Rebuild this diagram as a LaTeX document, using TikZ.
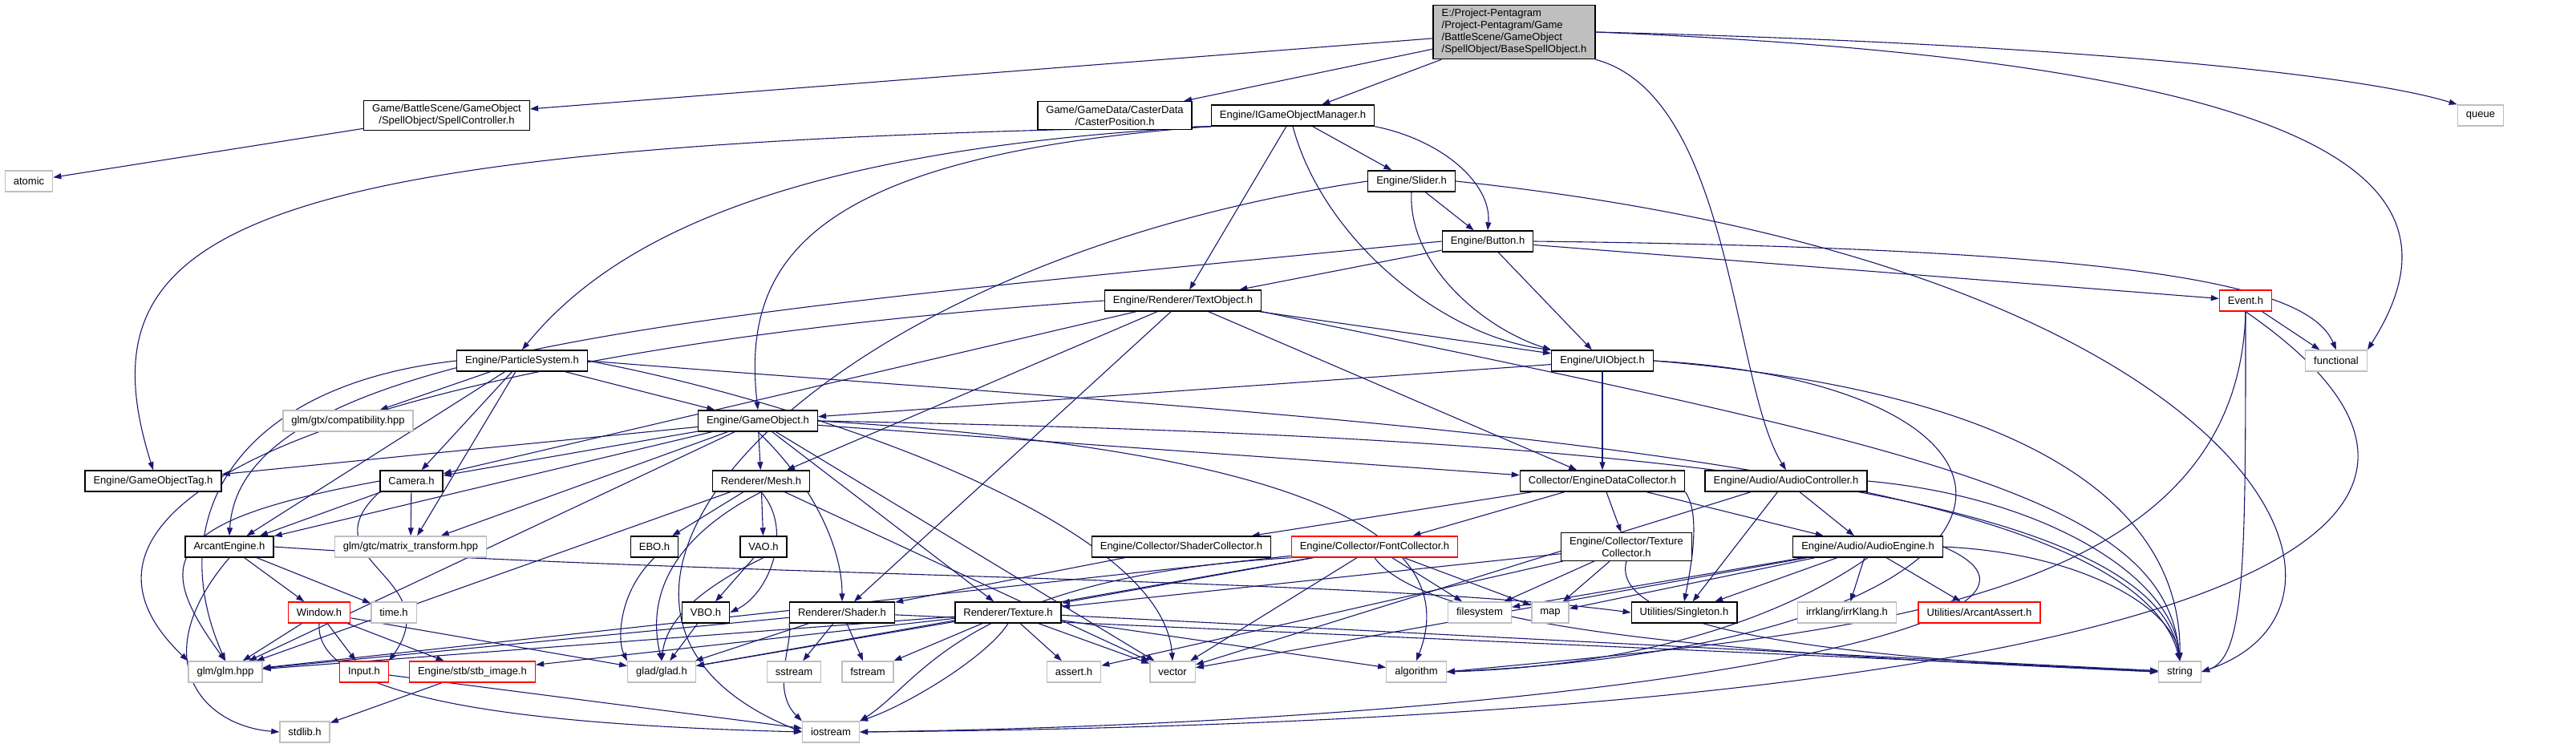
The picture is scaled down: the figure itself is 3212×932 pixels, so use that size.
\documentclass[tikz,border=0pt]{standalone}
\usepackage{fontspec}
\setmainfont{Liberation Sans}
\usetikzlibrary{arrows.meta}
\definecolor{edgeblue}{HTML}{191970}
\definecolor{sysgray}{HTML}{BFBFBF}
\pgfdeclarelayer{bg}
\pgfsetlayers{bg,main}
\tikzset{
  hdr/.style={draw=black, line width=1.4pt, fill=white, font=\fontsize{13}{15}\selectfont,
    inner xsep=10.5pt, inner ysep=5pt, minimum height=26pt, align=center},
  syshdr/.style={hdr, draw=sysgray},
  redhdr/.style={hdr, draw=red},
  roothdr/.style={hdr, fill=sysgray, align=left},
  dep/.style={draw=edgeblue, line width=1.1pt, -{Triangle[length=10pt,width=7pt]}},
}
\begin{document}
\begin{tikzpicture}[x=1pt,y=1pt]
    \useasboundingbox (0,0) rectangle (3212,-932);

    % Nodo radice
    \node[roothdr] (root) at (1888,-40) {E:/Project-Pentagram\\/Project-Pentagram/Game\\/BattleScene/GameObject\\/SpellObject/BaseSpellObject.h};

    % Primo livello
    \node[hdr] (spellctrl) at (557,-144) {Game/BattleScene/GameObject\\/SpellObject/SpellController.h};
    \node[syshdr] (atomic) at (36,-226) {atomic};
    \node[hdr] (casterpos) at (1390,-144) {Game/GameData/CasterData\\/CasterPosition.h};
    \node[hdr] (igom) at (1612,-144) {Engine/IGameObjectManager.h};
    \node[syshdr] (queue) at (3093,-144) {queue};
    \node[syshdr] (functional) at (2913,-450) {functional};
    \node[hdr] (audioctrl) at (2227,-600) {Engine/Audio/AudioController.h};

    % UI
    \node[hdr] (slider) at (1760,-226) {Engine/Slider.h};
    \node[hdr] (button) at (1855,-301) {Engine/Button.h};
    \node[hdr] (uiobject) at (1998,-450) {Engine/UIObject.h};
    \node[hdr] (textobject) at (1475,-375) {Engine/Renderer/TextObject.h};
    \node[redhdr] (event) at (2800,-375) {Event.h};

    % GameObject e motore
    \node[hdr] (particles) at (651,-450) {Engine/ParticleSystem.h};
    \node[hdr] (gotag) at (191,-600) {Engine/GameObjectTag.h};
    \node[hdr] (gameobject) at (945,-525) {Engine/GameObject.h};
    \node[syshdr] (compat) at (434,-525) {glm/gtx/compatibility.hpp};
    \node[hdr] (camera) at (513,-600) {Camera.h};
    \node[hdr] (arcant) at (286,-682) {ArcantEngine.h};
    \node[syshdr] (matrix) at (512,-682) {glm/gtc/matrix\_transform.hpp};
    \node[redhdr] (window) at (398,-764) {Window.h};
    \node[syshdr] (time) at (491,-764) {time.h};
    \node[syshdr] (glm) at (281,-838) {glm/glm.hpp};
    \node[redhdr] (input) at (454,-838) {Input.h};
    \node[redhdr] (stbimage) at (589,-838) {Engine/stb/stb\_image.h};
    \node[syshdr] (stdlib) at (380,-913) {stdlib.h};

    % Renderer
    \node[hdr] (mesh) at (949,-600) {Renderer/Mesh.h};
    \node[hdr] (ebo) at (816,-682) {EBO.h};
    \node[hdr] (vao) at (952,-682) {VAO.h};
    \node[hdr] (vbo) at (880,-764) {VBO.h};
    \node[hdr] (shader) at (1050,-764) {Renderer/Shader.h};
    \node[hdr] (texture) at (1257,-764) {Renderer/Texture.h};
    \node[syshdr] (glad) at (825,-838) {glad/glad.h};
    \node[syshdr] (sstream) at (990,-838) {sstream};
    \node[syshdr] (fstream) at (1082,-838) {fstream};
    \node[syshdr] (assert) at (1339,-838) {assert.h};
    \node[syshdr] (vector) at (1462,-838) {vector};
    \node[syshdr] (iostream) at (1036,-913) {iostream};

    % Collector e audio
    \node[hdr] (shadercoll) at (1473,-682) {Engine/Collector/ShaderCollector.h};
    \node[hdr] (edc) at (1998,-600) {Collector/EngineDataCollector.h};
    \node[redhdr] (fontcoll) at (1714,-682) {Engine/Collector/FontCollector.h};
    \node[hdr] (texcoll) at (2028,-682) {Engine/Collector/Texture\\Collector.h};
    \node[hdr] (audioengine) at (2329,-682) {Engine/Audio/AudioEngine.h};
    \node[syshdr] (filesystem) at (1845,-764) {filesystem};
    \node[syshdr] (map) at (1933,-764) {map};
    \node[hdr] (singleton) at (2100,-764) {Utilities/Singleton.h};
    \node[syshdr] (irrklang) at (2303,-764) {irrklang/irrKlang.h};
    \node[redhdr] (arcantassert) at (2468,-764) {Utilities/ArcantAssert.h};
    \node[syshdr] (algorithm) at (1766,-838) {algorithm};
    \node[syshdr] (string) at (2718,-838) {string};

    \begin{pgfonlayer}{bg}
    % Dipendenze dirette
    \foreach \a/\b in {root/spellctrl, root/casterpos, root/igom, spellctrl/atomic,
        igom/textobject, igom/slider, slider/button, button/uiobject, button/textobject,
        button/event, textobject/uiobject, textobject/edc, textobject/camera,
        textobject/mesh, textobject/shader, uiobject/edc, uiobject/gameobject,
        event/functional, particles/gameobject, particles/compat, particles/camera,
        particles/arcant, particles/matrix, gameobject/gotag, gameobject/camera,
        gameobject/arcant, gameobject/glm, gameobject/matrix, gameobject/mesh,
        gameobject/texture, gameobject/vector, gameobject/edc, camera/arcant,
        camera/matrix, arcant/window, arcant/time, window/glm, window/input,
        window/stbimage, window/glad, input/iostream, stbimage/stdlib, mesh/ebo,
        mesh/vao, mesh/vector, mesh/glm, vao/vbo, vbo/glad, shader/glad,
        shader/sstream, shader/fstream, shader/glm, shader/string, texture/glad,
        texture/fstream, texture/assert, texture/vector, texture/string, texture/glm,
        texture/stbimage, texture/algorithm, shadercoll/shader, edc/shadercoll,
        edc/fontcoll, edc/texcoll, edc/audioengine, audioctrl/audioengine,
        audioctrl/singleton, audioctrl/vector, fontcoll/texture, fontcoll/glm,
        fontcoll/glad, fontcoll/vector, fontcoll/filesystem, fontcoll/map,
        texcoll/texture, texcoll/filesystem, texcoll/map, texcoll/assert,
        audioengine/singleton, audioengine/irrklang, audioengine/arcantassert,
        audioengine/map, audioengine/filesystem, audioengine/vector}
        \draw[dep] (\a) -- (\b);

    % Dipendenze curve
    \draw[dep] (root.east) .. controls (2600,-55) and (2950,-95) .. (queue.north west);
    \draw[dep] (root.east) .. controls (2980,-80) and (3070,-250) .. (functional.north east);
    \draw[dep] (root.south east) .. controls (2160,-120) and (2160,-480) .. (audioctrl.north);
    \draw[dep] (igom.south west) .. controls (300,-178) and (95,-280) .. (gotag.north);
    \draw[dep] (igom.south west) .. controls (1000,-185) and (770,-290) .. (particles.north);
    \draw[dep] (igom.south west) .. controls (1000,-195) and (925,-330) .. (gameobject.north);
    \draw[dep] (igom.south east) .. controls (1800,-175) and (1860,-230) .. (button.north);
    \draw[dep] (igom.south) .. controls (1650,-300) and (1800,-420) .. (uiobject.north west);
    \draw[dep] (slider.south) .. controls (1755,-330) and (1850,-410) .. (uiobject.north west);
    \draw[dep] (slider.east) .. controls (2800,-330) and (3000,-750) .. (string.east);
    \draw[dep] (slider.west) .. controls (1000,-330) and (620,-760) .. (iostream.west);
    \draw[dep] (button.east) .. controls (2700,-310) and (2880,-360) .. (functional.north);
    \draw[dep] (button.west) .. controls (900,-390) and (300,-430) .. (arcant.north);
    \draw[dep] (textobject.west) .. controls (450,-440) and (20,-620) .. (glm.north west);
    \draw[dep] (textobject.south east) .. controls (2400,-560) and (2700,-620) .. (string.north);
    \draw[dep] (uiobject.east) .. controls (2550,-490) and (2720,-640) .. (string.north);
    \draw[dep] (uiobject.east) .. controls (2600,-480) and (2600,-800) .. (algorithm.east);
    \draw[dep] (event.south) .. controls (3250,-700) and (2600,-900) .. (iostream.east);
    \draw[dep] (event.south) .. controls (2800,-700) and (2800,-820) .. (string.east);
    \draw[dep] (event.south) .. controls (2790,-760) and (2300,-790) .. (algorithm.east);
    \draw[dep] (particles.east) .. controls (1000,-500) and (1450,-650) .. (vector.north);
    \draw[dep] (particles.east) .. controls (1600,-520) and (2650,-560) .. (string.north);
    \draw[dep] (particles.west) .. controls (300,-480) and (200,-640) .. (glm.north);
    \draw[dep] (gameobject.east) .. controls (1800,-540) and (2680,-580) .. (string.north);
    \draw[dep] (gameobject.east) .. controls (1600,-560) and (1830,-660) .. (algorithm.north);
    \draw[dep] (gameobject.south) .. controls (1010,-600) and (1050,-680) .. (shader.north);
    \draw[dep] (mesh.south) .. controls (820,-680) and (810,-760) .. (glad.north);
    \draw[dep] (mesh.south) .. controls (990,-660) and (960,-740) .. (vbo.east);
    \draw[dep] (vao.south) .. controls (860,-740) and (830,-780) .. (glad.north);
    \draw[dep] (ebo.south) .. controls (770,-740) and (770,-800) .. (glad.north west);
    \draw[dep] (arcant.south) .. controls (180,-820) and (250,-905) .. (stdlib.west);
    \draw[dep] (arcant.east) .. controls (900,-720) and (1700,-720) .. (singleton.west);
    \draw[dep] (camera.south west) .. controls (380,-700) and (560,-720) .. (input.north east);
    \draw[dep] (camera.west) .. controls (200,-650) and (190,-700) .. (glm.north);
    \draw[dep] (window.south) .. controls (390,-880) and (700,-905) .. (iostream.west);
    \draw[dep] (shader.south west) .. controls (990,-800) and (960,-860) .. (iostream.north west);
    \draw[dep] (texture.south) .. controls (1230,-820) and (1130,-880) .. (iostream.north east);
    \draw[dep] (fontcoll.south west) .. controls (1200,-720) and (1150,-850) .. (iostream.north east);
    \draw[dep] (fontcoll.south) .. controls (1790,-800) and (2300,-820) .. (string.west);
    \draw[dep] (texcoll.south) .. controls (2000,-800) and (2400,-825) .. (string.west);
    \draw[dep] (audioengine.east) .. controls (2650,-780) and (2000,-900) .. (iostream.east);
    \draw[dep] (audioengine.east) .. controls (2600,-690) and (2710,-760) .. (string.north);
    \draw[dep] (audioctrl.east) .. controls (2550,-620) and (2710,-720) .. (string.north);
    \draw[dep] (edc.south east) .. controls (2120,-640) and (2110,-700) .. (singleton.north);
    \draw[dep] (audioengine.south) .. controls (2150,-820) and (1900,-835) .. (algorithm.east);
    \end{pgfonlayer}
\end{tikzpicture}
\end{document}
